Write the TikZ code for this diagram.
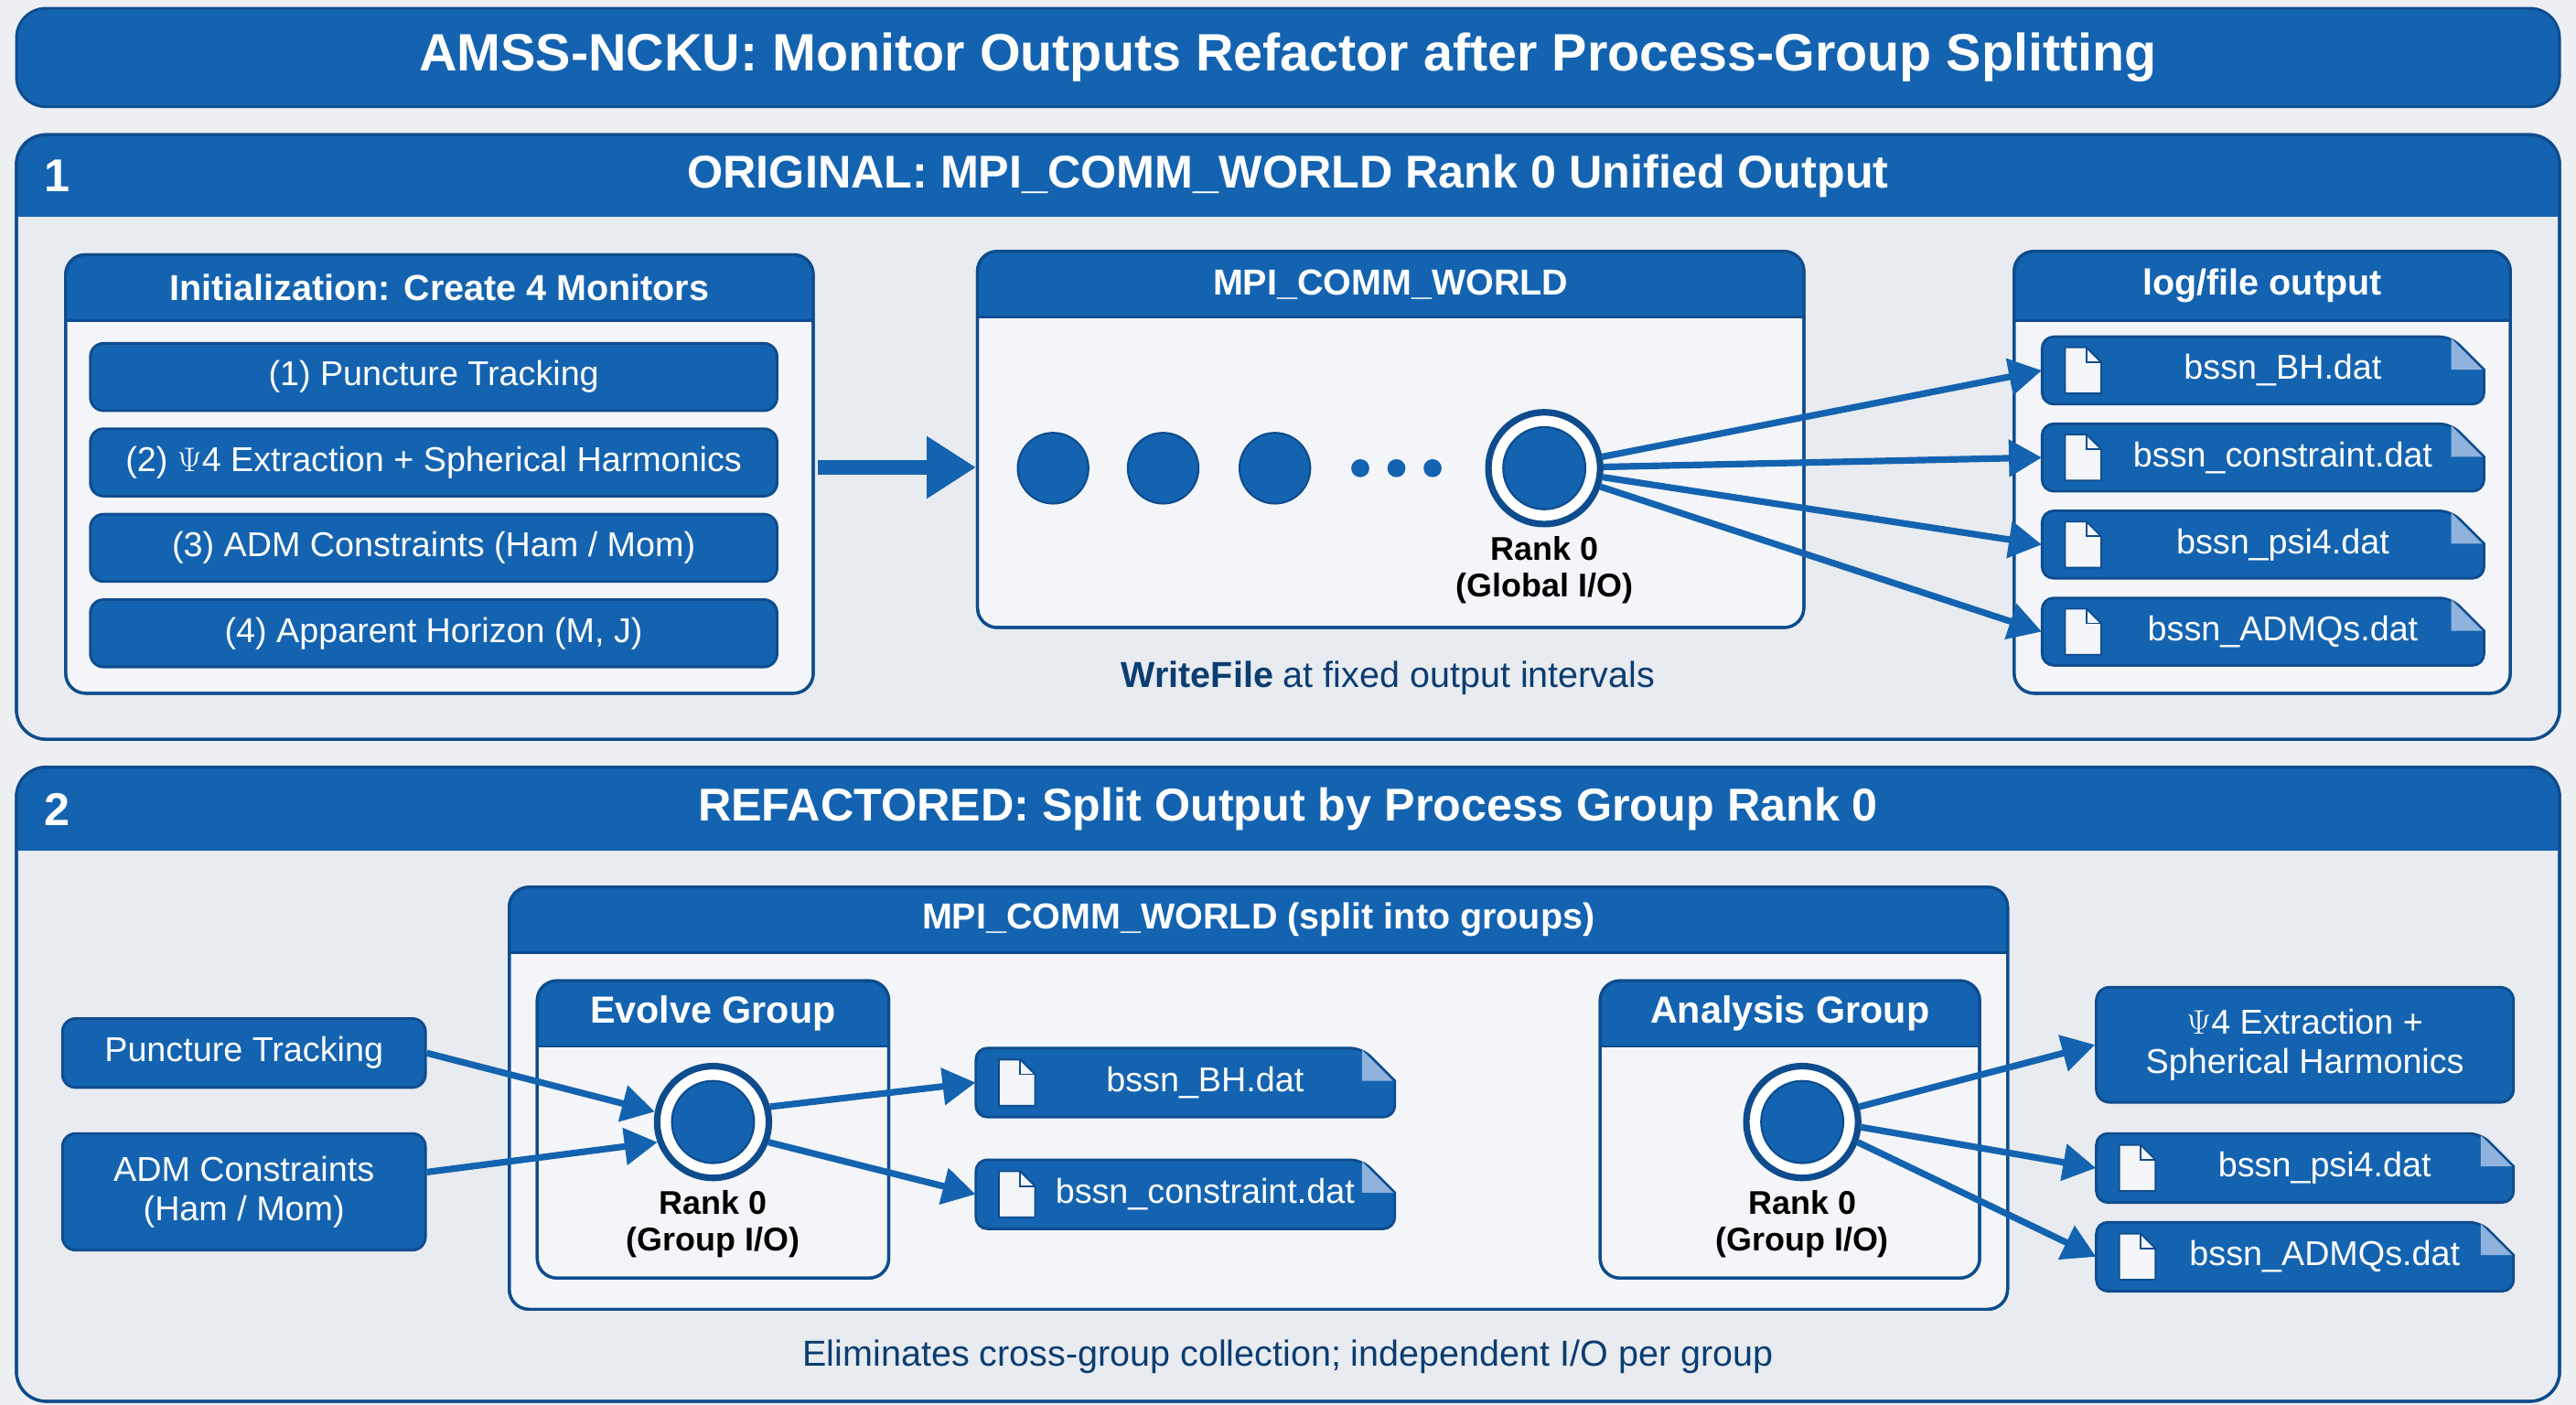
\documentclass[tikz,border=0pt]{standalone}
\usepackage{fontspec}
\setmainfont{Liberation Sans}
\usetikzlibrary{arrows.meta,calc}
\definecolor{bg}{HTML}{EDEFF2}
\definecolor{pan}{HTML}{E8EBEF}
\definecolor{inn}{HTML}{F3F5F8}
\definecolor{blu}{HTML}{1463B0}
\definecolor{brd}{HTML}{0E4C8E}
\definecolor{ear}{HTML}{8FB3DD}
\tikzset{
 bluebox/.style={draw=brd,line width=1.6pt,fill=blu,rounded corners=8pt,text=white,align=center,inner sep=0pt},
 arr/.style={draw=blu,line width=4pt,-{Triangle[length=20pt,width=22pt]}},
 blk/.style={text=black,font=\fontsize{20}{22}\selectfont\bfseries,align=center},
}
\newcommand\hdrbox[8]{%
 \node[draw=brd,line width=1.8pt,fill=inn,rounded corners=12pt,minimum width=#4pt-#2pt,minimum height=#5pt-#3pt,inner sep=0pt] (#1) at ({(#2+#4)/2},{(#3+#5)/2}) {};
 \begin{scope}
 \clip[rounded corners=12pt] (#2,#3) rectangle (#4,#5);
 \fill[blu] (#2,#3) rectangle (#4,#6);
 \draw[brd,line width=1.6pt] (#2,#6) -- (#4,#6);
 \end{scope}
 \draw[brd,line width=1.8pt,rounded corners=12pt] (#2,#3) rectangle (#4,#5);
 \node[text=white,font=\fontsize{#8}{#8}\selectfont\bfseries] (#1t) at ({(#2+#4)/2},{(#3+#6)/2}) {#7};
}
\newcommand\filebox[6]{%
 \node[minimum width=#4pt-#2pt,minimum height=#5pt-#3pt,inner sep=0pt] (#1) at ({(#2+#4)/2},{(#3+#5)/2}) {};
 \draw[draw=brd,line width=1.6pt,fill=blu,rounded corners=7pt] (#2,#3) -- (#4-20,#3) [sharp corners]-- (#4,#3+20) [rounded corners=7pt]-- (#4,#5) -- (#2,#5) -- cycle;
 \fill[ear] (#4-20,#3+1) -- (#4-1,#3+20) -- (#4-20,#3+20) -- cycle;
 \draw[brd,fill=inn,line width=1pt] (#2+14,{(#3+#5)/2-14}) -- (#2+27,{(#3+#5)/2-14}) -- (#2+36,{(#3+#5)/2-5}) -- (#2+36,{(#3+#5)/2+14}) -- (#2+14,{(#3+#5)/2+14}) -- cycle;
 \draw[brd,line width=1pt] (#2+27,{(#3+#5)/2-14}) -- (#2+27,{(#3+#5)/2-5}) -- (#2+36,{(#3+#5)/2-5});
 \node[text=white,font=\fontsize{21}{23}\selectfont] (#1t) at ({(#2+#4)/2+12},{(#3+#5)/2}) {#6};
}
\newcommand\rankcirc[3]{%
 \node[circle,draw=brd,line width=4pt,fill=white,minimum size=68pt,inner sep=0pt] (#1) at (#2,#3) {};
 \node[circle,draw=brd,line width=1.2pt,fill=blu,minimum size=50pt,inner sep=0pt] (#1i) at (#2,#3) {};
}
\begin{document}
\begin{tikzpicture}[x=1pt,y=-1pt]
\fill[bg] (0,0) rectangle (1568,855);
\useasboundingbox (0,0) rectangle (1568,855);
\node[bluebox,rounded corners=18pt,minimum width=1548pt,minimum height=60pt,font=\fontsize{32}{34}\selectfont\bfseries] (title) at (784,35) {AMSS-NCKU: Monitor Outputs Refactor after Process-Group Splitting};
\foreach \n/\ya/\yb/\yh/\lab/\tt in {p1/82/450/132/1/{ORIGINAL: MPI\_COMM\_WORLD Rank 0 Unified Output}, p2/467/853/518/2/{REFACTORED: Split Output by Process Group Rank 0}}{
 \node[draw=brd,line width=1.8pt,fill=pan,rounded corners=18pt,minimum width=1548pt,minimum height=\yb pt-\ya pt,inner sep=0pt] (\n) at (784,{(\ya+\yb)/2}) {};
 \begin{scope}\clip[rounded corners=18pt] (10,\ya) rectangle (1558,\yb);
 \fill[blu] (10,\ya) rectangle (1558,\yh);\end{scope}
 \draw[brd,line width=1.8pt,rounded corners=18pt] (10,\ya) rectangle (1558,\yb);
 \node[text=white,font=\fontsize{28}{30}\selectfont\bfseries] (\n n) at (35,{(\ya+\yh)/2}) {\lab};
 \node[text=white,font=\fontsize{28}{30}\selectfont\bfseries] (\n t) at (784,{(\ya+\yh)/2}) {\tt};
}
\hdrbox{init}{40}{155}{495}{422}{195}{Initialization: Create 4 Monitors}{22}
\foreach \i/\ya/\tx in {1/209/{(1) Puncture Tracking},2/261/{(2) $\Psi$4 Extraction + Spherical Harmonics},3/313/{(3) ADM Constraints (Ham / Mom)},4/365/{(4) Apparent Horizon (M, J)}}{
 \node[bluebox,minimum width=418pt,minimum height=41pt,font=\fontsize{21}{23}\selectfont] (m\i) at (264,\ya+20.5) {\tx};
}
\hdrbox{mpi}{595}{153}{1098}{382}{193}{MPI\_COMM\_WORLD}{22}
\foreach \i/\x in {1/641,2/708,3/776}{\node[circle,draw=brd,line width=1.2pt,fill=blu,minimum size=43pt,inner sep=0pt] (c\i) at (\x,285) {};}
\foreach \i/\x in {1/828,2/850,3/872}{\node[circle,fill=blu,minimum size=11pt,inner sep=0pt] (d\i) at (\x,285) {};}
\rankcirc{r0}{940}{285}
\node[blk] (r0t) at (940,347) {Rank 0\\(Global I/O)};
\node[text=brd!80!black,font=\fontsize{22}{24}\selectfont] (wf) at (845,413) {\textbf{WriteFile} at fixed output intervals};
\draw[arr,line width=9pt,-{Triangle[length=30pt,width=36pt]}] (init.east) ++(2,-4) coordinate (bs) -- (mpi.west |- bs);
\hdrbox{log}{1226}{153}{1528}{422}{195}{log/file output}{22}
\filebox{f1}{1243}{205}{1512}{246}{bssn\_BH.dat}
\filebox{f2}{1243}{258}{1512}{299}{bssn\_constraint.dat}
\filebox{f3}{1243}{311}{1512}{352}{bssn\_psi4.dat}
\filebox{f4}{1243}{364}{1512}{405}{bssn\_ADMQs.dat}
\foreach \i in {1,2,3,4}{\draw[arr] (r0) -- (f\i.west);}
\hdrbox{split}{310}{540}{1222}{797}{580}{MPI\_COMM\_WORLD (split into groups)}{22}
\hdrbox{evo}{327}{597}{541}{778}{637}{Evolve Group}{23}
\hdrbox{ana}{974}{597}{1205}{778}{637}{Analysis Group}{23}
\rankcirc{e0}{434}{683}
\node[blk] (e0t) at (434,745) {Rank 0\\(Group I/O)};
\rankcirc{a0}{1097}{683}
\node[blk] (a0t) at (1097,745) {Rank 0\\(Group I/O)};
\node[bluebox,minimum width=221pt,minimum height=42pt,font=\fontsize{21}{23}\selectfont] (pt) at (148.5,641) {Puncture Tracking};
\node[bluebox,minimum width=221pt,minimum height=71pt,font=\fontsize{21}{24}\selectfont] (adm) at (148.5,725.5) {ADM Constraints\\(Ham / Mom)};
\filebox{g1}{594}{638}{849}{680}{bssn\_BH.dat}
\filebox{g2}{594}{706}{849}{748}{bssn\_constraint.dat}
\node[bluebox,minimum width=254pt,minimum height=70pt,font=\fontsize{21}{24}\selectfont] (psi) at (1403,636) {$\Psi$4 Extraction +\\Spherical Harmonics};
\filebox{h1}{1276}{690}{1530}{732}{bssn\_psi4.dat}
\filebox{h2}{1276}{744}{1530}{786}{bssn\_ADMQs.dat}
\draw[arr] (pt.east) -- (e0.170);
\draw[arr] (adm.east) ++(0,-12) -- (e0.200);
\draw[arr] (e0.15) -- (g1.west);
\draw[arr] (e0.-20) -- (g2.west);
\draw[arr] (a0.15) -- (psi.west);
\draw[arr] (a0.-5) -- (h1.west);
\draw[arr] (a0.-20) -- (h2.west);
\node[text=brd!80!black,font=\fontsize{22}{24}\selectfont] (elim) at (784,826) {Eliminates cross-group collection; independent I/O per group};
\end{tikzpicture}
\end{document}
